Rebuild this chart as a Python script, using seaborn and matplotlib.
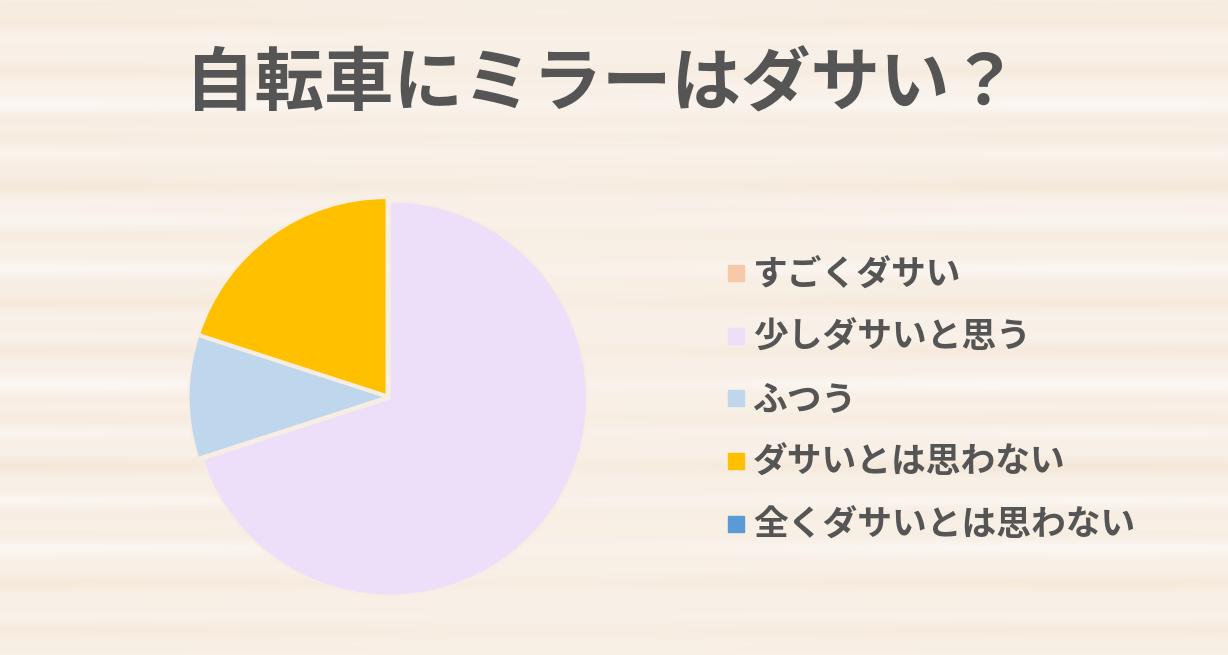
"""
自転車にミラーはダサい？ — アンケート結果の円グラフ
"""

import numpy as np
import matplotlib
matplotlib.use("Agg")
import matplotlib.pyplot as plt
from matplotlib.lines import Line2D
import seaborn as sns

# ── data
labels = ["すごくダサい", "少しダサいと思う", "ふつう", "ダサいとは思わない", "全くダサいとは思わない"]
shares = [0, 70, 10, 20, 0]
colors = ["#F8C9A8", "#EDDFF9", "#BED7ED", "#FFC000", "#5B9BD5"]
title = "自転車にミラーはダサい？"

sns.set_theme(style="white")
plt.rcParams["font.family"] = ["Noto Sans CJK JP", "DejaVu Sans"]
TEXT = "#555555"
BG = "#F7EDE3"

fig = plt.figure(figsize=(12.28, 6.55), dpi=100, facecolor=BG)

# ── wood-ish background (decoration only)
bg = fig.add_axes([0, 0, 1, 1], zorder=-1)
rows = np.arange(655)
band = (0.55 * np.sin(rows / 9.0) + 0.3 * np.sin(rows / 3.7 + 1.3)
        + 0.25 * np.sin(rows / 23.0 + 0.4))
cols = np.linspace(0, 1, 1228)
tex = band[:, None] * (0.7 + 0.3 * np.cos(cols[None, :] * 7.0))
light = np.array([0.988, 0.97, 0.955])
dark = np.array([0.96, 0.91, 0.85])
t = (tex - tex.min()) / (tex.max() - tex.min())
img = light[None, None, :] * (1 - t[..., None]) + dark[None, None, :] * t[..., None]
bg.imshow(img, aspect="auto", interpolation="bilinear")
bg.axis("off")

# ── title
fig.text(0.490, 0.870, title, ha="center", va="center", fontsize=50,
         fontweight="bold", color=TEXT)

# ── pie (only non-zero slices are drawn; legend lists every answer)
cx, cy, r = 388, 397, 200
ax = fig.add_axes([(cx - r) / 1228, (655 - cy - r) / 655, 2 * r / 1228, 2 * r / 655])
vals = [v for v in shares if v > 0]
cols_nz = [c for v, c in zip(shares, colors) if v > 0]
ax.pie(vals, colors=cols_nz, startangle=90, counterclock=False,
       explode=[0.012] * len(vals), radius=0.985,
       wedgeprops={"edgecolor": "#F7EDE3", "linewidth": 1.5})
ax.set_xlim(-1.0, 1.0); ax.set_ylim(-1.0, 1.0)
ax.set_aspect("equal")
ax.axis("off")

# ── legend
handles = [Line2D([0], [0], marker="s", linestyle="none", markersize=12,
                  markerfacecolor=c, markeredgecolor=c) for c in colors]
leg = fig.legend(handles, labels, loc="upper left", bbox_to_anchor=(0.578, 0.629),
                 frameon=False, fontsize=25, handletextpad=0.15, labelspacing=0.8,
                 handlelength=0.7, borderaxespad=0)
for txt in leg.get_texts():
    txt.set_color(TEXT)
    txt.set_fontweight("bold")

fig.savefig("out.png", dpi=100, facecolor=BG)
